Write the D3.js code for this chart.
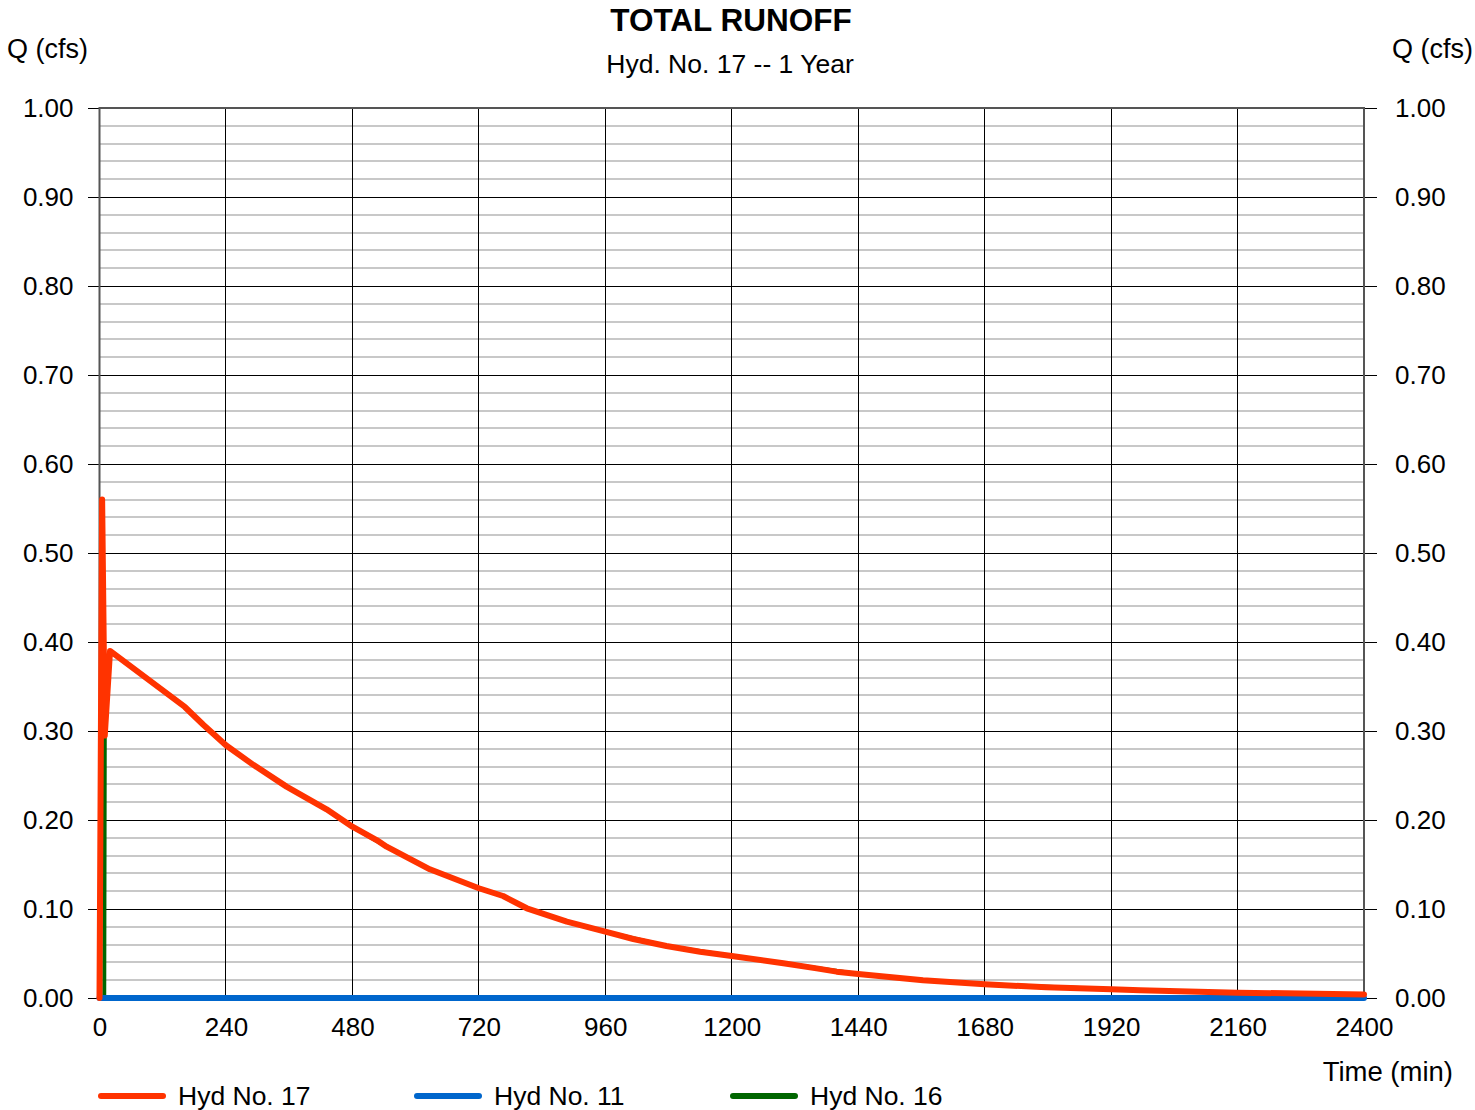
<!DOCTYPE html>
<html>
<head>
<meta charset="utf-8">
<script src="https://cdn.jsdelivr.net/npm/d3@7"></script>
<style>
  body { margin: 0; background: #fff; }
  svg text { font-family: "Liberation Sans", Arial, sans-serif; fill: #000; }
</style>
</head>
<body>
<div class="container"></div>
<script>
// values
const hyd17Time = [0, 5, 10, 20, 162, 197, 240, 292, 355, 431, 480, 526, 545, 627, 720, 766, 811, 887, 960, 1013, 1076, 1140, 1200, 1298, 1361, 1399, 1440, 1563, 1614, 1680, 1797, 1920, 1975, 2160, 2400]
const hyd17Q = [0, 0.56, 0.295, 0.39, 0.327, 0.307, 0.284, 0.262, 0.2375, 0.212, 0.1925, 0.1775, 0.170, 0.1446, 0.1233, 0.1146, 0.1008, 0.0858, 0.0745, 0.0663, 0.0584, 0.052, 0.0472, 0.039, 0.0333, 0.0296, 0.027, 0.020, 0.018, 0.0154, 0.012, 0.0098, 0.0088, 0.006, 0.004]
const hyd11Time = [0, 2400]
const hyd11Q = [0, 0]
// Hyd 16 rises at ~10 min and then lies under Hyd 17
const hyd16Time = [0, 9, 10, 20, 162, 197, 240, 292, 355, 431, 480, 545, 627, 720, 766, 811, 887, 960, 1076, 1200, 1298, 1440, 1563, 1680, 1920, 2160, 2400]
const hyd16Q = [0, 0, 0.295, 0.39, 0.327, 0.307, 0.284, 0.262, 0.2375, 0.212, 0.1925, 0.170, 0.1446, 0.1233, 0.1146, 0.1008, 0.0858, 0.0745, 0.0584, 0.0472, 0.039, 0.027, 0.020, 0.0154, 0.0098, 0.006, 0.004]

const xTicks = [0, 240, 480, 720, 960, 1200, 1440, 1680, 1920, 2160, 2400]
const yTicks = [0, 0.1, 0.2, 0.3, 0.4, 0.5, 0.6, 0.7, 0.8, 0.9, 1.0]
const yMinor = d3.range(0, 1.0001, 0.02)

const series = [
    { name: "Hyd No. 16", time: hyd16Time, q: hyd16Q, color: "#006600", w: 4 },
    { name: "Hyd No. 11", time: hyd11Time, q: hyd11Q, color: "#0066cc", w: 6 },
    { name: "Hyd No. 17", time: hyd17Time, q: hyd17Q, color: "#ff3300", w: 6 },
]
const legendOrder = ["Hyd No. 17", "Hyd No. 11", "Hyd No. 16"]

const width = 1475
const height = 1110
const margin = { top: 108, bottom: 112, left: 99.5, right: 111 }

let svg = d3.select(".container")
    .append("svg")
    .attr("width", width)
    .attr("height", height)

let x = d3.scaleLinear()
    .domain([0, 2400])
    .range([margin.left, width - margin.right])

let y = d3.scaleLinear()
    .domain([0, 1])
    .range([height - margin.bottom, margin.top])

// minor grid
svg.append("g")
    .selectAll("line")
    .data(yMinor.filter(v => Math.round(v * 50) % 5 !== 0))
    .join("line")
    .attr("x1", x(0)).attr("x2", x(2400))
    .attr("y1", d => Math.round(y(d))).attr("y2", d => Math.round(y(d)))
    .attr("stroke", "#c8c8c8")
    .attr("stroke-width", 2)

// major grid
svg.append("g")
    .attr("shape-rendering", "crispEdges")
    .selectAll("line")
    .data(xTicks)
    .join("line")
    .attr("x1", d => x(d)).attr("x2", d => x(d))
    .attr("y1", y(1)).attr("y2", y(0))
    .attr("stroke", "#000")
    .attr("stroke-width", 1)

svg.append("g")
    .attr("shape-rendering", "crispEdges")
    .selectAll("line")
    .data(yTicks)
    .join("line")
    .attr("x1", x(0)).attr("x2", x(2400))
    .attr("y1", d => y(d)).attr("y2", d => y(d))
    .attr("stroke", "#000")
    .attr("stroke-width", 1)

// y axes on both sides
let yLeft = svg.append("g")
    .attr("transform", `translate(${x(0)}, 0)`)
    .call(d3.axisLeft(y).tickValues(yTicks).tickFormat(d3.format(".2f")).tickSize(12).tickPadding(14))
let yRight = svg.append("g")
    .attr("transform", `translate(${x(2400)}, 0)`)
    .call(d3.axisRight(y).tickValues(yTicks).tickFormat(d3.format(".2f")).tickSize(13).tickPadding(18))
let xAxis = svg.append("g")
    .attr("transform", `translate(0, ${y(0)})`)
    .call(d3.axisBottom(x).tickValues(xTicks).tickFormat(d3.format("d")).tickSize(0).tickPadding(20))

for (let a of [yLeft, yRight, xAxis]) {
    a.select(".domain").remove()
    a.selectAll("text").attr("font-size", 26).attr("font-family", null)
    a.selectAll("line").attr("stroke", "#000").attr("shape-rendering", "crispEdges")
}

// plot frame
svg.append("rect")
    .attr("x", x(0)).attr("y", y(1))
    .attr("width", x(2400) - x(0)).attr("height", y(0) - y(1))
    .attr("fill", "none")
    .attr("stroke", "#555")
    .attr("stroke-width", 2)

// lines
let line = d3.line().x(d => x(d[0])).y(d => y(d[1]))
svg.append("g")
    .selectAll("path")
    .data(series)
    .join("path")
    .attr("d", s => line(s.time.map((t, i) => [t, s.q[i]])))
    .attr("fill", "none")
    .attr("stroke", s => s.color)
    .attr("stroke-width", s => s.w)
    .attr("stroke-linejoin", "round")
    .attr("stroke-linecap", "round")

// titles
svg.append("text")
    .attr("x", 731).attr("y", 31)
    .attr("text-anchor", "middle")
    .attr("font-size", 31.5)
    .attr("font-weight", "bold")
    .text("TOTAL RUNOFF")
svg.append("text")
    .attr("x", 730).attr("y", 73)
    .attr("text-anchor", "middle")
    .attr("font-size", 26.5)
    .text("Hyd. No. 17 -- 1 Year")
svg.append("text")
    .attr("x", 7).attr("y", 58)
    .attr("font-size", 27)
    .text("Q (cfs)")
svg.append("text")
    .attr("x", 1473).attr("y", 58)
    .attr("text-anchor", "end")
    .attr("font-size", 27)
    .text("Q (cfs)")
svg.append("text")
    .attr("x", 1453).attr("y", 1081)
    .attr("text-anchor", "end")
    .attr("font-size", 27.5)
    .text("Time (min)")

// legend
let legend = svg.append("g")
    .selectAll("g")
    .data(legendOrder.map(n => series.find(s => s.name === n)))
    .join("g")
    .attr("transform", (d, i) => `translate(${101 + i * 316}, 1096)`)
legend.append("line")
    .attr("x1", 0).attr("x2", 62)
    .attr("stroke", d => d.color)
    .attr("stroke-width", 6)
    .attr("stroke-linecap", "round")
legend.append("text")
    .attr("x", 77).attr("y", 9)
    .attr("font-size", 26.5)
    .text(d => d.name)
</script>
</body>
</html>
